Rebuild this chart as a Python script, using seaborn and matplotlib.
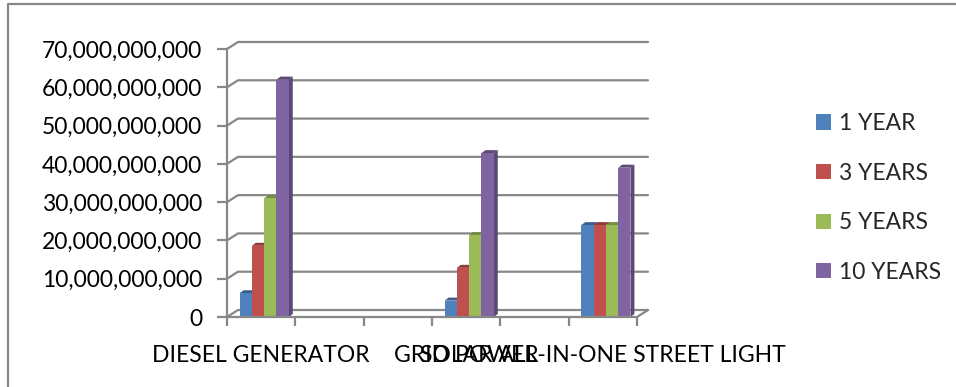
import numpy as np
import pandas as pd
import matplotlib
matplotlib.use("Agg")
import matplotlib.pyplot as plt
from matplotlib.patches import Polygon
from matplotlib.lines import Line2D
from matplotlib.ticker import FuncFormatter
import seaborn as sns

# Cost categories (blank slots keep the spacing of the original category axis)
systems = ["DIESEL GENERATOR", " ", "  ", "GRID POWER", "   ",
           "SOLAR ALL-IN-ONE STREET LIGHT"]
periods = ["1 YEAR", "3 YEARS", "5 YEARS", "10 YEARS"]

diesel_cost = [6.2e9, 18.6e9, 31.0e9, 62.0e9]
grid_cost = [4.28e9, 12.84e9, 21.4e9, 42.8e9]
solar_cost = [24.0e9, 24.0e9, 24.0e9, 39.0e9]

y_ticks = [0, 10e9, 20e9, 30e9, 40e9, 50e9, 60e9, 70e9]

front_colors = ["#4F81BD", "#C0504D", "#9BBB59", "#8064A2"]
shade_colors = ["#3A5F8E", "#8E3B39", "#738C42", "#5D4878"]
frame_gray = "#878787"

rows = []
for name, vals in [(systems[0], diesel_cost), (systems[3], grid_cost),
                   (systems[5], solar_cost)]:
    for p, v in zip(periods, vals):
        rows.append({"system": name, "period": p, "cost": v})
df = pd.DataFrame(rows)

sns.set_theme(style="white")
plt.rcParams["font.family"] = ["Lato", "DejaVu Sans"]
FS = 16.5

W, H = 956, 387
fig = plt.figure(figsize=(W / 100, H / 100), dpi=100)
fig.patch.set_facecolor("white")

# plot area in pixels: front-left axis and floor edge
px_left, px_right, px_bottom, px_top = 227, 637, 317, 49
ax = fig.add_axes([px_left / W, 1 - px_bottom / H,
                   (px_right - px_left) / W, (px_bottom - px_top) / H])
ax.set_facecolor("none")

sns.barplot(data=df, x="system", y="cost", hue="period", order=systems,
            hue_order=periods, palette=front_colors, saturation=1,
            width=0.72, linewidth=0, errorbar=None, ax=ax)

ax.set_xlim(-0.5, 5.5)
ax.set_ylim(0, 70e9)

# pixel -> data unit conversion for depth effects
sx = (px_right - px_left) / 6.0
sy = (px_bottom - px_top) / 70e9
wall_dx, wall_dy = 11 / sx, 7 / sy
bar_dx, bar_dy = 4 / sx, 3 / sy
bar_shift = 3 / sx

# back wall gridlines and the left side wall
for yv in y_ticks:
    ax.plot([-0.5, -0.5 + wall_dx, 5.5 + wall_dx], [yv, yv + wall_dy, yv + wall_dy],
            color=frame_gray, lw=1.6, clip_on=False, zorder=0.5,
            solid_joinstyle="miter")
# right edge of the floor
ax.plot([5.5, 5.5 + wall_dx], [0, wall_dy], color=frame_gray, lw=1.6,
        clip_on=False, zorder=0.5)

# give each column a shaded side and top face
for patch in list(ax.patches):
    h = patch.get_height()
    if h <= 0 or np.isnan(h):
        continue
    patch.set_x(patch.get_x() + bar_shift)
    patch.set_zorder(2)
    fc = matplotlib.colors.to_hex(patch.get_facecolor())
    idx = [c.lower() for c in front_colors].index(fc.lower())
    shade = shade_colors[idx]
    xl = patch.get_x()
    xr = xl + patch.get_width()
    side = Polygon([(xr, 0), (xr, h), (xr + bar_dx, h + bar_dy), (xr + bar_dx, bar_dy)],
                   closed=True, facecolor=shade, edgecolor="none", zorder=1.5,
                   clip_on=False)
    top = Polygon([(xl, h), (xr, h), (xr + bar_dx, h + bar_dy), (xl + bar_dx, h + bar_dy)],
                  closed=True, facecolor=shade, edgecolor="none", zorder=1.5,
                  clip_on=False)
    ax.add_patch(side)
    ax.add_patch(top)

# axes and ticks
for s in ["top", "right"]:
    ax.spines[s].set_visible(False)
for s in ["left", "bottom"]:
    ax.spines[s].set_color(frame_gray)
    ax.spines[s].set_linewidth(1.6)

ax.set_xticks(range(len(systems)))
ax.set_xticklabels(systems)
ax.set_xticks(np.arange(-0.5, len(systems), 1.0), minor=True)
ax.tick_params(axis="x", which="major", length=0, pad=20, labelsize=FS,
               labelcolor="black")
ax.tick_params(axis="x", which="minor", length=6.5, width=1.6,
               color=frame_gray, direction="out", bottom=True)

ax.set_yticks(y_ticks)
ax.yaxis.set_major_formatter(FuncFormatter(lambda v, _: f"{v:,.0f}"))
ax.tick_params(axis="y", which="major", length=7, width=1.6, color=frame_gray,
               direction="out", left=True, pad=11, labelsize=FS,
               labelcolor="black")
ax.set_xlabel("")
ax.set_ylabel("")

# legend on the right
leg = ax.get_legend()
handles = leg.legend_handles
labels = [t.get_text() for t in leg.get_texts()]
leg.remove()
fig.legend(handles, labels, loc="center left",
           bbox_to_anchor=(816 / W, 1 - 198 / H), frameon=False, fontsize=FS,
           handlelength=0.64, handleheight=0.64, handletextpad=0.35,
           labelspacing=1.25, borderpad=0, borderaxespad=0)

# chart border
fig.add_artist(Line2D([8 / W, 8 / W, 1.0], [0.0, 1 - 4 / H, 1 - 4 / H],
                      transform=fig.transFigure, color=frame_gray, lw=1.6))

fig.savefig("out.png", dpi=100, facecolor="white")
